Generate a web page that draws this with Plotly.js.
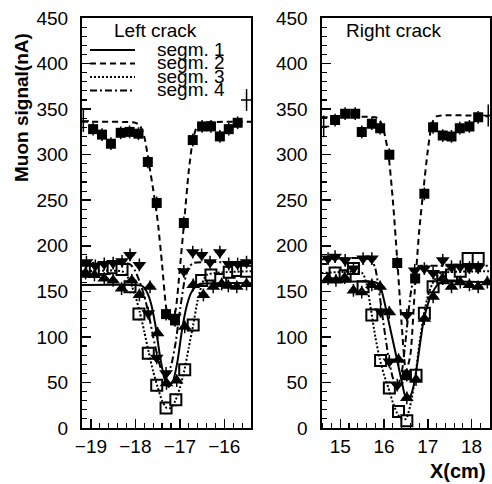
<!DOCTYPE html>
<html>
<head>
<meta charset="utf-8">
<script src="https://cdn.plot.ly/plotly-3.0.1.min.js"></script>
<style>html,body{margin:0;padding:0;background:#fff;}#chart{width:492px;height:484px;}</style>
</head>
<body>
<div id="chart"></div>
<script>
// ---------- Left crack: measured points ----------
const leftS1X = [-19.12, -18.92, -18.7, -18.5, -18.31, -18.08, -17.91, -17.67, -17.5, -17.3, -17.07, -16.89, -16.7, -16.47, -16.25, -16.06, -15.91, -15.72, -15.5];
const leftS1Y = [170, 168, 164, 162, 153, 162, 146, 155, 104, 49, 52, 111, 157, 146, 155, 158, 156, 155, 158];
const leftS2X = [-18.95, -18.75, -18.55, -18.33, -18.13, -17.93, -17.72, -17.52, -17.31, -17.11, -16.91, -16.71, -16.5, -16.3, -16.1, -15.9, -15.7];
const leftS2Y = [328, 322, 312, 324, 325, 323, 292, 247, 125, 118, 225, 316, 331, 331, 320, 328, 335];
const leftS3X = [-19.1, -18.9, -18.7, -18.5, -18.3, -18.12, -17.92, -17.71, -17.52, -17.31, -17.09, -16.89, -16.7, -16.51, -16.3, -16.08, -15.89, -15.7, -15.5];
const leftS3Y = [172, 174, 175, 176, 174, 155, 125, 82, 47, 22, 31, 64, 113, 162, 168, 163, 171, 173, 172];
const leftS4X = [-19.1, -18.9, -18.7, -18.5, -18.3, -18.12, -17.91, -17.71, -17.52, -17.31, -17.11, -16.91, -16.71, -16.51, -16.32, -16.1, -15.9, -15.7, -15.5];
const leftS4Y = [182, 178, 180, 181, 183, 190, 179, 126, 77, 60, 122, 172, 193, 190, 182, 193, 180, 180, 182];
const leftEdgeX = [-19.17, -15.5];
const leftEdgeY = [337, 360];

// ---------- Left crack: fitted curves ----------
const leftF1X = [-19.2, -18.0, -17.85, -17.75, -17.65, -17.55, -17.45, -17.35, -17.25, -17.15, -17.05, -16.95, -16.85, -16.75, -16.65, -16.55, -15.4];
const leftF1Y = [157, 157, 156, 150, 137, 113, 80, 55, 45, 52, 74, 108, 133, 148, 155, 158, 159];
const leftF2X = [-19.2, -18.0, -17.9, -17.8, -17.7, -17.6, -17.5, -17.4, -17.3, -17.2, -17.1, -17.0, -16.9, -16.8, -16.7, -16.6, -16.5, -15.4];
const leftF2Y = [336, 335, 332, 320, 292, 262, 228, 180, 130, 115, 128, 175, 228, 282, 318, 332, 335, 336];
const leftF3X = [-19.2, -18.3, -18.2, -18.1, -18.0, -17.9, -17.8, -17.7, -17.6, -17.5, -17.4, -17.3, -17.2, -17.1, -17.0, -16.9, -16.8, -16.7, -16.6, -16.5, -16.4, -15.4];
const leftF3Y = [172, 172, 168, 158, 145, 127, 106, 83, 62, 45, 30, 22, 22, 30, 44, 63, 88, 113, 140, 158, 168, 172];
const leftF4X = [-19.2, -18.2, -18.1, -18.0, -17.9, -17.8, -17.7, -17.6, -17.5, -17.4, -17.3, -17.2, -17.1, -17.0, -16.9, -16.8, -16.7, -15.4];
const leftF4Y = [181, 181, 179, 172, 160, 145, 125, 100, 78, 62, 58, 68, 92, 128, 160, 176, 181, 181];

// ---------- Right crack: measured points ----------
const rightS1X = [14.72, 14.9, 15.1, 15.3, 15.49, 15.72, 15.91, 16.12, 16.33, 16.52, 16.73, 16.92, 17.12, 17.34, 17.54, 17.74, 17.95, 18.15, 18.36];
const rightS1Y = [164, 162, 165, 151, 149, 157, 155, 127, 75, 33, 53, 120, 144, 164, 155, 160, 157, 155, 160];
const rightS2X = [14.88, 15.11, 15.34, 15.49, 15.72, 15.91, 16.12, 16.3, 16.52, 16.71, 16.92, 17.12, 17.34, 17.54, 17.73, 17.95, 18.15];
const rightS2Y = [338, 345, 345, 325, 334, 329, 300, 181, 58, 164, 257, 330, 321, 320, 329, 331, 341];
const rightS3X = [14.88, 15.11, 15.3, 15.52, 15.72, 15.92, 16.12, 16.33, 16.52, 16.73, 16.92, 17.12, 17.34, 17.54, 17.74, 17.92, 18.15];
const rightS3Y = [170, 167, 175, 155, 124, 74, 44, 18, 8, 58, 126, 155, 165, 168, 172, 186, 186];
const rightS4X = [14.72, 14.88, 15.11, 15.3, 15.52, 15.72, 15.92, 16.12, 16.3, 16.52, 16.7, 16.92, 17.12, 17.34, 17.54, 17.74, 17.95, 18.15];
const rightS4Y = [186, 188, 184, 175, 186, 186, 128, 73, 47, 124, 173, 175, 170, 184, 177, 177, 176, 176];
const rightEdgeX = [14.62, 18.38];
const rightEdgeY = [331, 343];

// ---------- Right crack: fitted curves ----------
const rightF1X = [14.57, 15.8, 15.9, 16.0, 16.1, 16.2, 16.3, 16.4, 16.5, 16.6, 16.7, 16.8, 16.9, 17.0, 17.1, 17.2, 17.3, 18.4];
const rightF1Y = [160, 160, 157, 140, 118, 96, 74, 52, 33, 35, 52, 85, 117, 136, 148, 156, 160, 160];
const rightF2X = [14.57, 15.8, 15.9, 16.0, 16.1, 16.2, 16.3, 16.4, 16.5, 16.6, 16.7, 16.8, 16.9, 17.0, 17.1, 17.2, 18.4];
const rightF2Y = [341, 341, 338, 325, 300, 250, 185, 115, 62, 80, 150, 215, 262, 305, 335, 342, 342];
const rightF3X = [14.57, 15.5, 15.6, 15.7, 15.8, 15.9, 16.0, 16.1, 16.2, 16.3, 16.4, 16.5, 16.6, 16.7, 16.8, 16.9, 17.0, 17.1, 17.2, 17.3, 18.4];
const rightF3Y = [170, 170, 158, 130, 100, 76, 58, 44, 28, 16, 10, 10, 25, 52, 90, 122, 145, 158, 166, 170, 172];
const rightF4X = [14.57, 15.7, 15.8, 15.9, 16.0, 16.1, 16.2, 16.3, 16.4, 16.5, 16.6, 16.7, 16.8, 16.9, 18.4];
const rightF4Y = [185, 185, 175, 145, 110, 78, 55, 46, 60, 100, 145, 170, 178, 178, 178];

// ---------- Text ----------
const legendLabels = ["segm. 1", "segm. 2", "segm. 3", "segm. 4"];
const panelTitles = ["Left crack", "Right crack"];
const yTitle = "Muon signal(nA)";
const xTitle = "X(cm)";
const yTicks = [0, 50, 100, 150, 200, 250, 300, 350, 400, 450];

// ---------- Styling ----------
const W = 492, H = 484;
const FONT = "Liberation Sans, Arial, Helvetica, sans-serif";
const px = p => p / W;
const py = p => 1 - p / H;
const dashes = ["solid", "6px,4px", "2px,2px", "7px,3px,2px,3px"];
const symbols = ["triangle-up", "square", "square", "triangle-down"];
const msizes = [12, 10, 11, 12];

function fitTrace(x, y, i, xa, ya) {
  return {x, y, xaxis: xa, yaxis: ya, mode: "lines", type: "scatter",
    line: {color: "black", width: 2, dash: dashes[i], shape: "spline", smoothing: 0.6},
    hoverinfo: "skip"};
}
function ptTrace(x, y, i, xa, ya) {
  const open = i === 2;
  return {x, y, xaxis: xa, yaxis: ya, mode: "markers", type: "scatter",
    marker: {symbol: symbols[i], size: msizes[i], color: open ? "white" : "black",
      line: {color: "black", width: open ? 2 : 0}},
    error_y: {type: "constant", value: 7, color: "black", thickness: 1.5, width: 0},
    error_x: {type: "constant", value: 0.1, color: "black", thickness: 1.5, width: 0}};
}
function edgeTrace(x, y, xa, ya) {
  return {x, y, xaxis: xa, yaxis: ya, mode: "markers", type: "scatter",
    marker: {symbol: "line-ew-open", size: 8, color: "black", line: {color: "black", width: 1.5}},
    error_y: {type: "constant", value: 12, color: "black", thickness: 1.5, width: 0}};
}

const leftF = [[leftF1X, leftF1Y], [leftF2X, leftF2Y], [leftF3X, leftF3Y], [leftF4X, leftF4Y]];
const leftP = [[leftS1X, leftS1Y], [leftS2X, leftS2Y], [leftS3X, leftS3Y], [leftS4X, leftS4Y]];
const rightF = [[rightF1X, rightF1Y], [rightF2X, rightF2Y], [rightF3X, rightF3Y], [rightF4X, rightF4Y]];
const rightP = [[rightS1X, rightS1Y], [rightS2X, rightS2Y], [rightS3X, rightS3Y], [rightS4X, rightS4Y]];

const traces = [];
// open squares underneath, then fitted curves, then filled markers
traces.push(ptTrace(leftP[2][0], leftP[2][1], 2, "x", "y"));
traces.push(ptTrace(rightP[2][0], rightP[2][1], 2, "x2", "y2"));
leftF.forEach((d, i) => traces.push(fitTrace(d[0], d[1], i, "x", "y")));
rightF.forEach((d, i) => traces.push(fitTrace(d[0], d[1], i, "x2", "y2")));
[0, 3, 1].forEach(i => {
  traces.push(ptTrace(leftP[i][0], leftP[i][1], i, "x", "y"));
  traces.push(ptTrace(rightP[i][0], rightP[i][1], i, "x2", "y2"));
});
traces.push(edgeTrace(leftEdgeX, leftEdgeY, "x", "y"));
traces.push(edgeTrace(rightEdgeX, rightEdgeY, "x2", "y2"));

function xAxis(domain, range, anchor) {
  return {domain, range, anchor, dtick: 1, tick0: 0, ticks: "inside", ticklen: 9, tickwidth: 1.5,
    tickcolor: "black", showline: true, linecolor: "black", linewidth: 2, mirror: true,
    showgrid: false, zeroline: false, ticklabelstandoff: 0,
    tickfont: {family: FONT, size: 19, color: "black"},
    minor: {dtick: 0.2, tick0: 0, ticks: "inside", ticklen: 5, tickwidth: 1.2, tickcolor: "black", showgrid: false}};
}
function yAxis(domain, anchor) {
  return {domain, range: [0, 450], anchor, tickvals: yTicks, ticks: "inside", ticklen: 9, tickwidth: 1.5,
    tickcolor: "black", showline: true, linecolor: "black", linewidth: 2, mirror: true,
    showgrid: false, zeroline: false, ticklabelstandoff: 8,
    tickfont: {family: FONT, size: 19, color: "black"},
    minor: {dtick: 10, tick0: 0, ticks: "inside", ticklen: 5, tickwidth: 1.2, tickcolor: "black", showgrid: false}};
}

const yDom = [1 - 428 / H, 1 - 18 / H];
const layout = {
  width: W, height: H, margin: {l: 0, r: 0, t: 0, b: 0},
  paper_bgcolor: "white", plot_bgcolor: "white", showlegend: false,
  font: {family: FONT, color: "black"},
  xaxis: xAxis([px(82), px(251)], [-19.2, -15.4], "y"),
  yaxis: yAxis(yDom, "x"),
  xaxis2: xAxis([px(321.5), px(490)], [14.57, 18.42], "y2"),
  yaxis2: yAxis(yDom, "x2"),
  shapes: [],
  annotations: []
};

// legend (manually drawn, as in the original)
const legY = [50, 63.5, 77, 90.5];
legY.forEach((yy, i) => {
  layout.shapes.push({type: "line", xref: "paper", yref: "paper", x0: px(90), x1: px(135), y0: py(yy), y1: py(yy),
    line: {color: "black", width: 2, dash: dashes[i]}});
  layout.annotations.push({xref: "paper", yref: "paper", x: px(191), y: py(yy - 1), xanchor: "center", yanchor: "middle",
    text: legendLabels[i], showarrow: false, borderpad: 0, font: {family: FONT, size: 19, color: "black"}});
});
layout.annotations.push({xref: "paper", yref: "paper", x: px(155), y: py(30), xanchor: "center", yanchor: "middle",
  text: panelTitles[0], showarrow: false, font: {family: FONT, size: 19, color: "black"}});
layout.annotations.push({xref: "paper", yref: "paper", x: px(394), y: py(30), xanchor: "center", yanchor: "middle",
  text: panelTitles[1], showarrow: false, font: {family: FONT, size: 19, color: "black"}});
layout.annotations.push({xref: "paper", yref: "paper", x: px(21), y: py(108), xanchor: "center", yanchor: "middle",
  textangle: -90, text: yTitle, showarrow: false, font: {family: FONT, size: 19, color: "black", weight: "bold"}});
layout.annotations.push({xref: "paper", yref: "paper", x: px(487), y: py(471), xanchor: "right", yanchor: "middle",
  text: xTitle, showarrow: false, borderpad: 0, font: {family: FONT, size: 20, color: "black", weight: "bold"}});

Plotly.newPlot("chart", traces, layout, {staticPlot: true, displayModeBar: false});
</script>
</body>
</html>
